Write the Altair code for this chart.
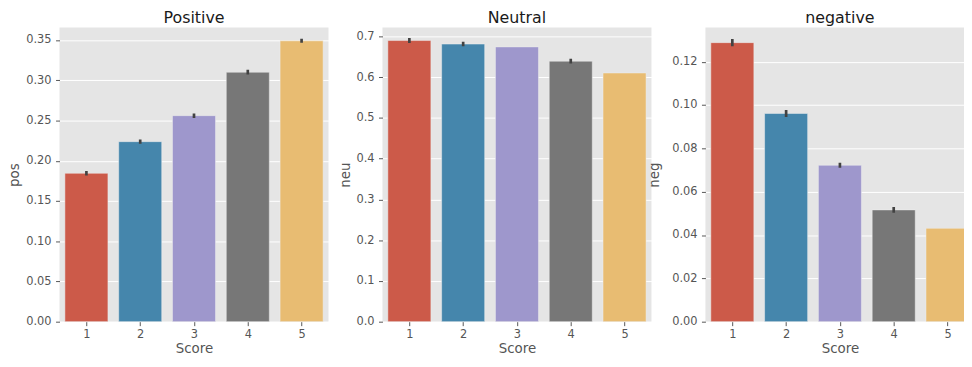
import altair as alt
import pandas as pd

scores = ["1", "2", "3", "4", "5"]
colors = ["#CC5A49", "#4586AC", "#9E97CC", "#777777", "#E8BC72"]

pos_vals = [0.1844, 0.2237, 0.2560, 0.3100, 0.3490]
pos_err = [0.0028, 0.0026, 0.0028, 0.0030, 0.0025]
neu_vals = [0.6896, 0.6810, 0.6740, 0.6390, 0.6100]
neu_err = [0.0060, 0.0055, 0.0, 0.0060, 0.0]
neg_vals = [0.1288, 0.0961, 0.0722, 0.0516, 0.0431]
neg_err = [0.0017, 0.0016, 0.0012, 0.0013, 0.0]

FONT = "DejaVu Sans"
TICK_FS = 11.5
LABEL_FS = 13.5
TITLE_FS = 16
STEP = 54.3          # pixels per category (as in the reference)
BAR = 0.8            # bar width as a fraction of a category


def panel(title, field, vals, errs, ymax, ticks, fmt, width, extent, tpad,
          title_dx=0, xtitle_x=None):
    df = pd.DataFrame({
        "Score": scores,
        "xn": [int(s) for s in scores],
        field: vals,
        "lo": [v - e for v, e in zip(vals, errs)],
        "hi": [v + e for v, e in zip(vals, errs)],
        "err": errs,
    })
    xmax = 0.5 + width / STEP
    xscale = alt.Scale(domain=[0.5, xmax], nice=False, zero=False)
    axis_kw = dict(values=[int(s) for s in scores], format="d", labelAngle=0, domain=False,
                   grid=False, tickSize=4, tickColor="#555555",
                   labelColor="#555555", labelFont=FONT, labelFontSize=TICK_FS, labelPadding=2.5,
                   titleFont=FONT, titleFontSize=LABEL_FS, titleColor="#555555",
                   titleFontWeight="normal", titlePadding=2)
    if xtitle_x is not None:
        axis_kw["titleX"] = xtitle_x
    yscale = alt.Scale(domain=[0, ymax], nice=False, zero=True)
    y = alt.Y(f"{field}:Q", scale=yscale,
              axis=alt.Axis(values=ticks, format=fmt, domain=False, grid=True, gridColor="white",
                            gridWidth=1, tickSize=4, tickColor="#555555", labelColor="#555555",
                            labelFont=FONT, labelFontSize=TICK_FS, labelPadding=4.5,
                            minExtent=extent, maxExtent=extent,
                            titleFont=FONT, titleFontSize=LABEL_FS, titleColor="#555555",
                            titleFontWeight="normal", titlePadding=tpad),
              title=field)
    base = alt.Chart(df).transform_calculate(
        xl=f"datum.xn - {BAR / 2}", xr=f"datum.xn + {BAR / 2}")
    bars = base.mark_bar(stroke="#EEEEEE", strokeWidth=0.5, clip=True).encode(
        x=alt.X("xl:Q", scale=xscale, axis=alt.Axis(**axis_kw), title="Score"),
        x2="xr:Q",
        y=y,
        y2=alt.datum(0),
        color=alt.Color("Score:N", scale=alt.Scale(domain=scores, range=colors), legend=None),
    )
    errbars = alt.Chart(df).transform_filter("datum.err > 0").mark_rule(
        color="#424242", strokeWidth=2.7, clip=True).encode(
        x=alt.X("xn:Q", scale=xscale), y=alt.Y("lo:Q", scale=yscale), y2="hi:Q")
    return alt.layer(bars, errbars).properties(
        width=width, height=297,
        title=alt.TitleParams(title, font=FONT, fontSize=TITLE_FS, fontWeight="normal",
                              color="#1a1a1a", anchor="middle", frame="group",
                              offset=2, dx=title_dx),
    )


p1 = panel("Positive", "pos", pos_vals, pos_err, 0.3656,
           [0, 0.05, 0.1, 0.15, 0.2, 0.25, 0.3, 0.35], ".2f", 271.5, 31, 7)
p2 = panel("Neutral", "neu", neu_vals, neu_err, 0.7217,
           [0, 0.1, 0.2, 0.3, 0.4, 0.5, 0.6, 0.7], ".1f", 271.5, 24, 6)
p3 = panel("negative", "neg", neg_vals, neg_err, 0.1358,
           [0, 0.02, 0.04, 0.06, 0.08, 0.1, 0.12], ".2f", 261, 31, 13,
           title_dx=5.25, xtitle_x=135.75)

chart = (alt.hconcat(p1, p2, p3, spacing=54, bounds="flush")
         .properties(padding=0)
         .configure(background="white")
         .configure_view(stroke=None, fill="#E5E5E5"))

chart.save("out.html", embed_options={"renderer": "svg", "actions": False})
